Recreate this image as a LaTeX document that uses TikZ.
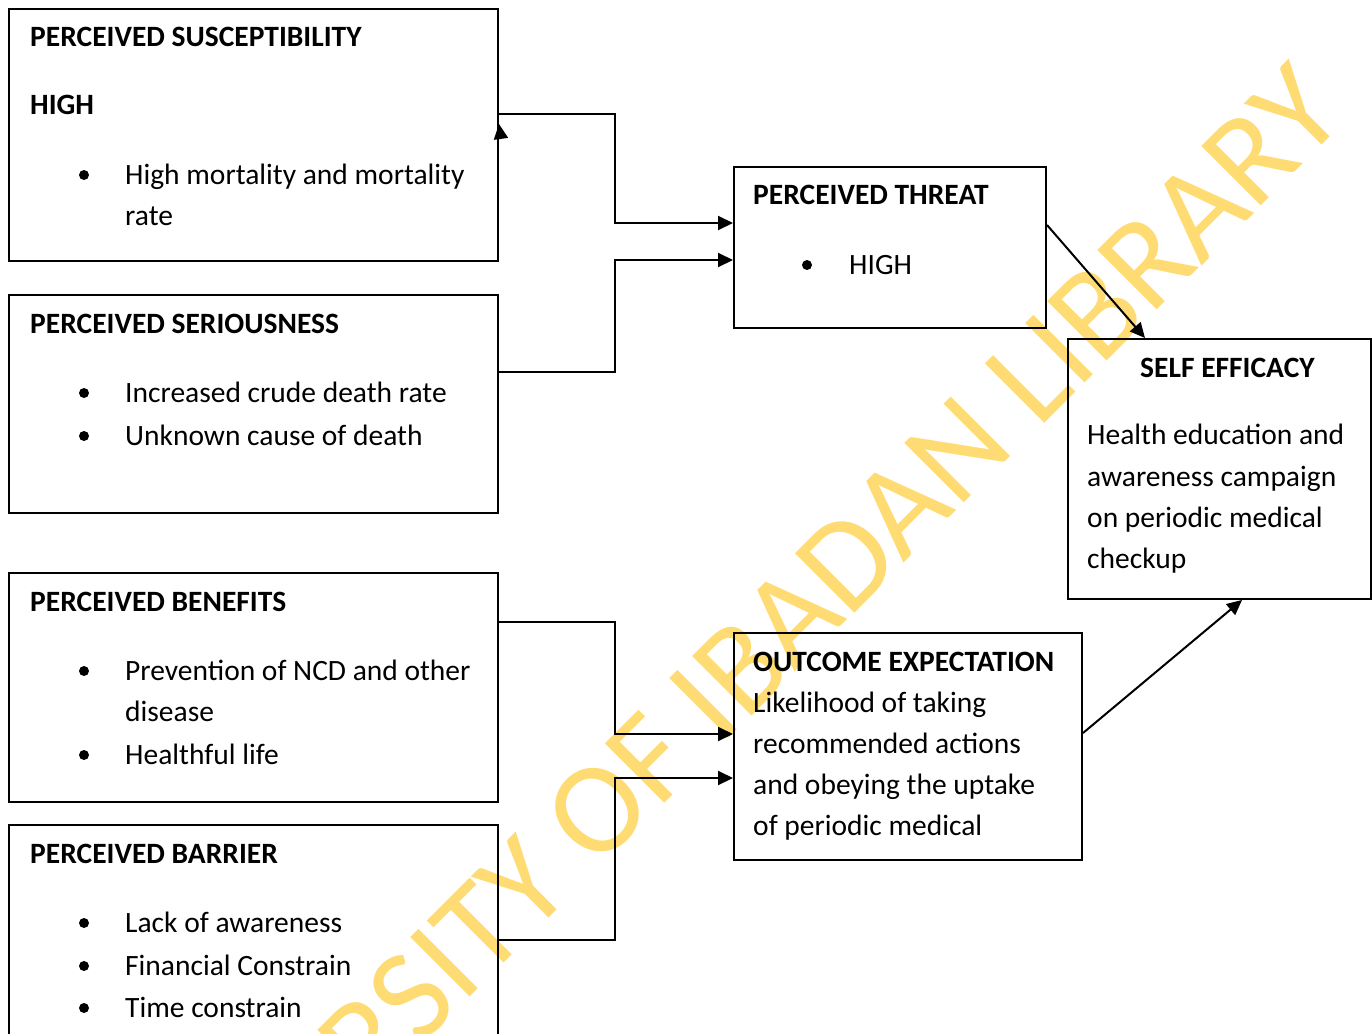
\documentclass[tikz,border=0pt]{standalone}
\usepackage{fontspec}
\setmainfont{Carlito}
\usetikzlibrary{arrows.meta}
\definecolor{wmark}{RGB}{255,219,115}
\begin{document}
\begin{tikzpicture}[x=1pt,y=-1pt,
    box/.style={draw,line width=2pt,anchor=north west,inner sep=0pt},
    head/.style={anchor=base west,inner sep=0pt,font=\fontsize{29.5}{41}\selectfont\bfseries},
    txt/.style={anchor=base west,inner sep=0pt,font=\fontsize{29.5}{41}\selectfont},
    dot/.style={circle,fill,inner sep=0pt,minimum size=10pt},
    arr/.style={line width=2pt,-{Triangle[length=15pt,width=14pt]}}]
    \useasboundingbox (0,0) rectangle (1372,1033);
    % watermark
    \node[rotate=45,text=wmark,font=\fontsize{131}{131}\selectfont] (wm) at (710,698) {UNIVERSITY OF IBADAN LIBRARY};
    % boxes
    \node[box,minimum width=489pt,minimum height=252pt] (susc) at (8,8) {};
    \node[box,minimum width=489pt,minimum height=218pt] (seri) at (8,294) {};
    \node[box,minimum width=489pt,minimum height=229pt] (bene) at (8,572) {};
    \node[box,minimum width=489pt,minimum height=260pt] (barr) at (8,824) {};
    \node[box,minimum width=312pt,minimum height=161pt] (threat) at (733,166) {};
    \node[box,minimum width=303pt,minimum height=260pt] (self) at (1067,338) {};
    \node[box,minimum width=348pt,minimum height=227pt] (outc) at (733,632) {};
    % headings
    \foreach \x/\y/\gt[count=\i] in {30/47/PERCEIVED SUSCEPTIBILITY,30/114/HIGH,30/333/PERCEIVED SERIOUSNESS,30/611/PERCEIVED BENEFITS,30/863/PERCEIVED BARRIER,753/204/PERCEIVED THREAT,1140/377/SELF EFFICACY,753/671/OUTCOME EXPECTATION}
        \node[head] (h\i) at (\x,\y) {\gt};
    % bullets
    \foreach \x/\y[count=\i] in {84/175,84/393,84/436,84/671,84/755,84/923,84/966,84/1008,807/265}
        \node[dot] (b\i) at (\x,\y) {};
    % item lines
    \foreach \x/\y/\gt[count=\i] in {125/184/High mortality and mortality,125/225/rate,125/402/Increased crude death rate,125/445/Unknown cause of death,125/680/Prevention of NCD and other,125/721/disease,125/764/Healthful life,125/932/Lack of awareness,125/975/Financial Constrain,125/1017/Time constrain,849/274/HIGH,1087/444/Health education and,1087/486/awareness campaign,1087/527/on periodic medical,1087/568/checkup,753/712/Likelihood of taking,753/753/recommended actions,753/794/and obeying the uptake,753/835/of periodic medical}
        \node[txt] (t\i) at (\x,\y) {\gt};
    % connectors
    \draw[arr] (susc.east |- 0,114) -| (615,170) |- (threat.west |- 0,223);
    \draw[arr] (seri.east |- 0,372) -| (615,300) |- (threat.west |- 0,260);
    \draw[arr] (bene.east |- 0,622) -| (615,700) |- (outc.west |- 0,734);
    \draw[arr] (barr.east |- 0,940) -| (615,850) |- (outc.west |- 0,778);
    \draw[arr] (threat.east |- 0,225) -- (self.north -| 1145,0);
    \draw[arr] (outc.east |- 0,733) -- (self.south -| 1242,0);
    \coordinate (stub) at (501,139);
    \draw[arr] (stub) -- (susc.east |- 0,124);
\end{tikzpicture}
\end{document}
